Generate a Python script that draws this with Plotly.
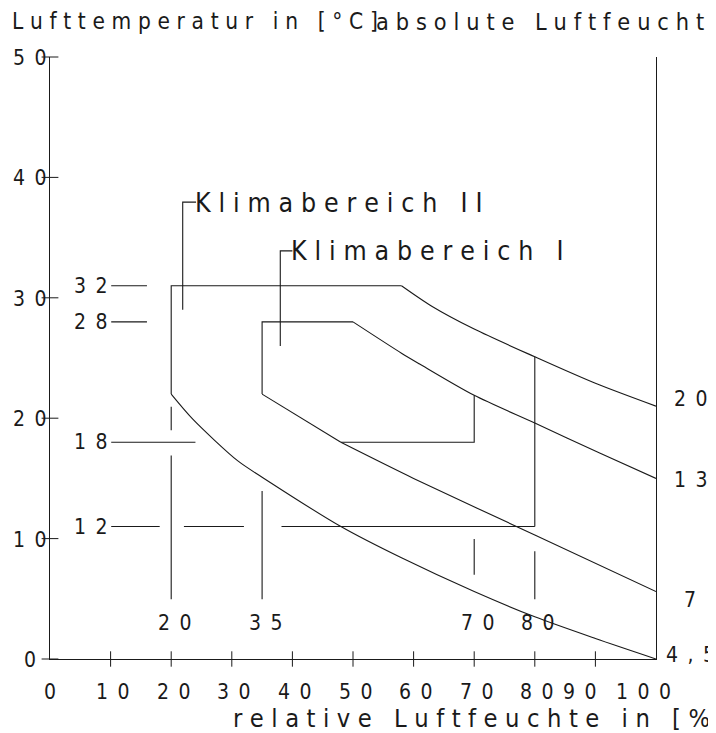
import plotly.graph_objects as go

# ---------------- data ----------------
x_tick_vals = [0, 10, 20, 30, 40, 50, 60, 70, 80, 90, 100]
x_tick_labels = ["0", "10", "20", "30", "40", "50", "60", "70", "80", "90", "100"]
y_tick_vals = [0, 10, 20, 30, 40, 50]
y_tick_labels = ["0", "10", "20", "30", "40", "50"]

# lines of constant absolute humidity: relative humidity [%] -> air temperature [°C]
ah20_rh = [58, 63, 70, 80, 90, 100]
ah20_t = [31.0, 29.3, 27.4, 25.1, 22.9, 21.0]
ah13_rh = [50, 58, 61, 70, 80, 90.7, 100]
ah13_t = [28.0, 25.4, 24.5, 21.9, 19.6, 17.1, 15.0]
ah7_rh = [35, 48, 60, 80, 100]
ah7_t = [22.0, 18.0, 15.0, 10.3, 5.6]
ah45_rh = [20, 23.6, 31, 35, 48, 58, 70, 80, 90, 100]
ah45_t = [22.0, 19.9, 16.45, 15.1, 11.0, 8.4, 5.6, 3.5, 1.7, 0.0]
curve_labels = ["20", "13", "7", "4,5"]
curve_label_t = [21.6, 14.9, 4.9, 0.35]

# Klimabereich II boundary
kb2_rh = [20, 20, 58]
kb2_t = [22.0, 31.0, 31.0]
kb2_side_rh = [80, 80]
kb2_side_t = [25.1, 11.0]
# Klimabereich I boundary
kb1_rh = [35, 35, 50]
kb1_t = [22.0, 28.0, 28.0]
kb1_side_rh = [48, 70, 70]
kb1_side_t = [18.0, 18.0, 21.9]

# temperature marks on the left (label, drawn level, segments in % RH)
temp_labels = ["32", "28", "18", "12"]
temp_levels = [31.0, 28.0, 18.0, 11.0]
temp_segments = [
    [(10.1, 16.0)],
    [(10.1, 16.0)],
    [(10.1, 24.0)],
    [(10.1, 18.1), (22.1, 32.0), (38.2, 80.0)],
]

# relative humidity marks at the bottom (label, position, segments in °C)
rh_labels = ["20", "35", "70", "80"]
rh_positions = [20, 35, 70, 80]
rh_segments = [
    [(20.95, 19.0), (16.9, 4.97)],
    [(13.95, 4.97)],
    [(9.97, 7.0)],
    [(8.94, 4.97)],
]
rh_label_t = 3.0

# region labels with leader lines
region_labels = ["Klimabereich II", "Klimabereich I"]
leader_rh = [21.9, 38.0]
leader_t_bottom = [29.0, 26.0]
leader_t_top = [37.95, 33.9]
leader_text_rh = [24.1, 40.0]

# ---------------- drawing ----------------
FONT = "DejaVu Sans Condensed, Liberation Sans Narrow, DejaVu Sans, sans-serif"
INK = "#1a1a1a"
LW = 1.1
DIG = "\u2002"   # gap between digits
GAP = "\u2004"   # gap between letters


def spaced(s, sep):
    return sep.join(list(s))


fig = go.Figure()


def add_line(xs, ys, shape="linear"):
    fig.add_trace(go.Scatter(x=xs, y=ys, mode="lines",
                             line=dict(color=INK, width=LW, shape=shape, smoothing=0.8),
                             hoverinfo="skip", showlegend=False))


# humidity curves (smooth)
add_line(ah20_rh, ah20_t, "spline")
add_line(ah13_rh, ah13_t, "spline")
add_line(ah7_rh[:2], ah7_t[:2])
add_line(ah7_rh[1:], ah7_t[1:], "spline")
add_line(ah45_rh, ah45_t, "spline")

# region boundaries
for xs, ys in [(kb2_rh, kb2_t), (kb2_side_rh, kb2_side_t), (kb1_rh, kb1_t),
               (kb1_side_rh, kb1_side_t)]:
    add_line(xs, ys)

for lvl, segs in zip(temp_levels, temp_segments):
    for a, b in segs:
        add_line([a, b], [lvl, lvl])

for pos, segs in zip(rh_positions, rh_segments):
    for a, b in segs:
        add_line([pos, pos], [a, b])

for rx, tb, tt, tx in zip(leader_rh, leader_t_bottom, leader_t_top, leader_text_rh):
    add_line([rx, rx, tx], [tb, tt, tt])

# axis tick marks crossing the axes
fig.add_trace(go.Scatter(x=x_tick_vals[1:-1], y=[0] * (len(x_tick_vals) - 2), mode="markers",
                         marker=dict(symbol="line-ns", size=11, line=dict(color=INK, width=1)),
                         cliponaxis=False, hoverinfo="skip", showlegend=False))
fig.add_trace(go.Scatter(x=[0] * len(y_tick_vals), y=y_tick_vals, mode="markers",
                         marker=dict(symbol="line-ew", size=12, line=dict(color=INK, width=1)),
                         cliponaxis=False, hoverinfo="skip", showlegend=False))

DIGFONT = dict(size=21, color=INK, family=FONT)
ann = []
# x tick labels (the last two are squeezed to the left as in the original)
x_nudge = {0: 0, 90: -16, 100: -13}
for v, lab in zip(x_tick_vals, x_tick_labels):
    ann.append(dict(x=v, y=0, xref="x", yref="y", text=spaced(lab, DIG),
                    xanchor="center", yanchor="middle", xshift=x_nudge.get(v, 2), yshift=-33,
                    showarrow=False, font=DIGFONT))
# y tick labels ("0" sits further left, as in the original)
for v, lab in zip(y_tick_vals, y_tick_labels):
    ann.append(dict(x=0, y=v, xref="x", yref="y", text=spaced(lab, DIG),
                    xanchor="right", yanchor="middle", xshift=-12 if v == 0 else -2, yshift=-1,
                    showarrow=False, font=DIGFONT))
for lab, lvl, segs in zip(temp_labels, temp_levels, temp_segments):
    ann.append(dict(x=segs[0][0], y=lvl, xref="x", yref="y", text=spaced(lab, DIG),
                    xanchor="right", yanchor="middle", xshift=-2, showarrow=False,
                    font=DIGFONT))
for lab, pos in zip(rh_labels, rh_positions):
    ann.append(dict(x=pos, y=rh_label_t, xref="x", yref="y", text=spaced(lab, DIG),
                    xanchor="center", yanchor="middle", xshift=3, showarrow=False,
                    font=DIGFONT))
for lab, t in zip(curve_labels, curve_label_t):
    ann.append(dict(x=100, y=t, xref="x", yref="y", text=spaced(lab, DIG),
                    xanchor="center", yanchor="middle", xshift=34, showarrow=False,
                    font=DIGFONT))
for lab, tx, tt in zip(region_labels, leader_text_rh, leader_t_top):
    ann.append(dict(x=tx, y=tt, xref="x", yref="y", text=spaced(lab, GAP),
                    xanchor="left", yanchor="middle", xshift=-3, showarrow=False,
                    font=dict(size=26.5, color=INK, family=FONT)))

# axis titles
ann.append(dict(x=0, y=1, xref="paper", yref="paper", text=spaced("Lufttemperatur in [°C]", GAP),
                xanchor="left", yanchor="middle", xshift=-40, yshift=36, showarrow=False,
                font=dict(size=22.5, color=INK, family=FONT)))
ann.append(dict(x=0, y=1, xref="paper", yref="paper",
                text=spaced("absolute Luftfeuchte in [g/m³]", GAP),
                xanchor="left", yanchor="middle", xshift=324, yshift=36, showarrow=False,
                font=dict(size=23.3, color=INK, family=FONT)))
ann.append(dict(x=0, y=0, xref="paper", yref="paper",
                text=spaced("relative Luftfeuchte in [%]", GAP),
                xanchor="left", yanchor="middle", xshift=181, yshift=-59, showarrow=False,
                font=dict(size=25.3, color=INK, family=FONT)))

fig.update_layout(
    width=708, height=725, autosize=False,
    margin=dict(l=42, r=60, t=49, b=74, pad=0),
    paper_bgcolor="white", plot_bgcolor="white",
    showlegend=False,
    annotations=ann,
    font=dict(family=FONT, color=INK),
    xaxis=dict(range=[0, 100], showgrid=False, zeroline=False, showline=True,
               linecolor=INK, linewidth=1, ticks="", tickvals=x_tick_vals,
               showticklabels=False),
    yaxis=dict(range=[0, 50], showgrid=False, zeroline=False, showline=True, mirror=True,
               linecolor=INK, linewidth=1, ticks="", tickvals=y_tick_vals,
               showticklabels=False),
)

fig.write_html("out.html")
